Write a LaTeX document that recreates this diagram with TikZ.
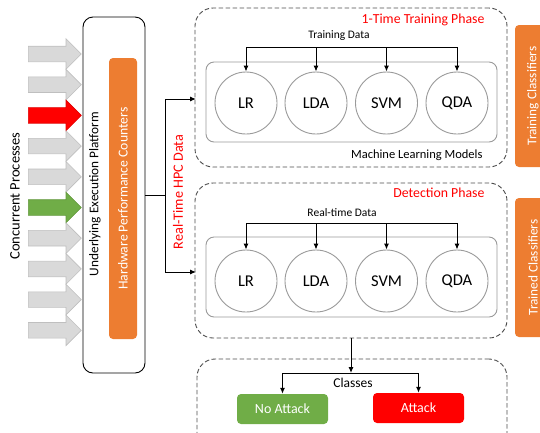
\documentclass[tikz,border=0pt]{standalone}
\usepackage{fontspec}
\setmainfont{Carlito}
\usetikzlibrary{positioning,shapes.arrows,arrows.meta}

\definecolor{hpcorange}{HTML}{ED7D31}
\definecolor{procgray}{HTML}{D9D9D9}
\definecolor{okgreen}{HTML}{70AD47}
\definecolor{alarmred}{HTML}{FF0000}
\definecolor{boxgray}{HTML}{9A9A9A}

\tikzset{
  proc/.style={single arrow, minimum height=53, inner xsep=0, inner ysep=7.5,
    single arrow head extend=7.5, anchor=tail, line width=0.6pt},
  phase/.style={draw=black!70, dashed, dash pattern=on 4.5pt off 2.5pt,
    line width=0.9pt, rounded corners=18},
  models/.style={draw=boxgray, fill=white, line width=0.9pt, rounded corners=8},
  algo/.style={circle, draw=boxgray, fill=white, line width=0.9pt,
    minimum size=62, inner sep=0, font=\fontsize{16.5}{18}\selectfont},
  orangebar/.style={fill=hpcorange, rounded corners=4, text=white, rotate=90,
    inner sep=0},
  classbox/.style={rounded corners=4, text=white, minimum width=91,
    minimum height=30, inner sep=0, font=\fontsize{14}{16}\selectfont},
  arr/.style={-{Latex[length=6pt,width=5pt]}, line width=1pt},
  lbl/.style={font=\fontsize{11.5}{13}\selectfont},
  phaselbl/.style={text=alarmred, anchor=east, font=\fontsize{13.8}{16}\selectfont}
}

\begin{document}
\begin{tikzpicture}[x=1pt, y=-1pt]
      \useasboundingbox (0,0) rectangle (540,432);
      \clip (0,0) rectangle (540,432);

      % Define the process arrows and the platform
      \foreach \c [count=\i] in {procgray,procgray,alarmred,procgray,procgray,okgreen,procgray,procgray,procgray,procgray}
        \node[proc, fill=\c, draw=\c!88!black] (p\i) at (28,{54+30.7*(\i-1)}) {};
      \node[rotate=90, font=\fontsize{14.5}{16}\selectfont] (conc) at (15,196) {Concurrent Processes};

      \node[draw, line width=0.9pt, rounded corners=10, minimum width=62, minimum height=356] (plat) at (114,195) {};
      \node[rotate=90, font=\fontsize{13.3}{15}\selectfont] (platlbl) at (95,194) {Underlying Execution Platform};
      \node[orangebar, minimum width=281, minimum height=28, font=\fontsize{13.7}{15}\selectfont] (hpc) at (123,198.5) {Hardware Performance Counters};

      % Define the two phases
      \node[phase, minimum width=312, minimum height=159] (train) at (351,87.5) {};
      \node[phase, minimum width=312, minimum height=155] (detect) at (351,260.5) {};
      \node[phaselbl] (trainlbl) at (488,20) {1-Time Training Phase};
      \node[phaselbl] (detectlbl) at (488,193) {Detection Phase};

      \node[models, minimum width=291, minimum height=80] (mlT) at (351.5,102) {};
      \node[models, minimum width=291, minimum height=80] (mlD) at (351.5,277) {};
      \node[anchor=east, font=\fontsize{12.5}{14}\selectfont] (mllbl) at (486,155) {Machine Learning Models};

      \foreach \m/\x in {lr/246,lda/316,svm/386.5,qda/457} {
        \node[algo] (\m T) at (\x,103) {\MakeUppercase{\m}};
        \node[algo] (\m D) at (\x,281) {\MakeUppercase{\m}};
      }

      \node[lbl] (tdlbl) at (339,36) {Training Data};
      \node[lbl] (rdlbl) at (342,213) {Real-time Data};
      \coordinate (tdata) at (246,47);
      \coordinate (rdata) at (246,223);

      % Draw the data arrows into the models
      \draw[line width=1pt] (lrT.north |- tdata) -- (qdaT.north |- tdata);
      \draw[line width=1pt] (lrD.north |- rdata) -- (qdaD.north |- rdata);
      \foreach \m in {lr,lda,svm,qda} {
        \draw[arr] (\m T.north |- tdata) -- (\m T.north);
        \draw[arr] (\m D.north |- rdata) -- (\m D.north);
      }

      % Draw the HPC data path
      \coordinate (split) at (165,195);
      \coordinate (inT) at (196,99);
      \coordinate (inD) at (196,272);
      \draw[line width=1pt] (plat.east) -- (split);
      \draw[arr] (split) |- (inT);
      \draw[arr] (split) |- (inD);
      \node[rotate=90, text=alarmred, font=\fontsize{14.2}{16}\selectfont] (hpclbl) at (178,192) {Real-Time HPC Data};

      % Side labels
      \node[orangebar, minimum width=142, minimum height=36, font=\fontsize{13.3}{15}\selectfont] (trainCl) at (533,96) {Training Classifiers};
      \node[orangebar, minimum width=139, minimum height=36, font=\fontsize{13.3}{15}\selectfont] (trainedCl) at (533,267.5) {Trained Classifiers};

      % Define the classes region
      \node[phase, minimum width=310, minimum height=92] (cls) at (352,405) {};
      \node[font=\fontsize{13.5}{15}\selectfont] (clslbl) at (353,383) {Classes};
      \node[classbox, fill=okgreen] (noatk) at (282.5,409) {No Attack};
      \node[classbox, fill=alarmred] (atk) at (418.5,408) {Attack};

      \coordinate (clsplit) at (351,373);
      \draw[arr] (detect.south) -- (detect.south |- clsplit);
      \draw[line width=1pt] (noatk.north |- clsplit) -- (atk.north |- clsplit);
      \draw[arr] (noatk.north |- clsplit) -- (noatk.north);
      \draw[arr] (atk.north |- clsplit) -- (atk.north);
\end{tikzpicture}
\end{document}
